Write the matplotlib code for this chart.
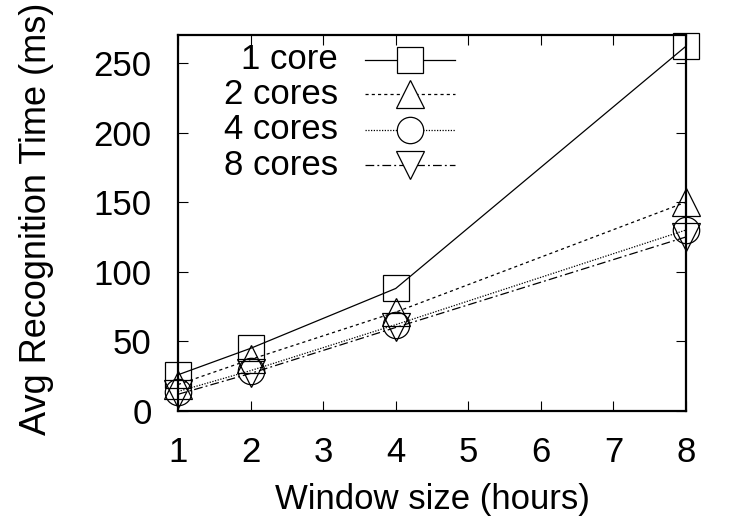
import numpy as np
import matplotlib
matplotlib.use("Agg")
import matplotlib.pyplot as plt

# データ
window_hours = [1, 2, 4, 8]
labels = ["1 core", "2 cores", "4 cores", "8 cores"]
t_1core = [26, 45, 88, 262]
t_2cores = [19, 37, 71, 150]
t_4cores = [14, 29, 62, 130]
t_8cores = [12, 27, 60, 125]
series = [t_1core, t_2cores, t_4cores, t_8cores]

markers = ["s", "^", "o", "v"]
msizes = [19, 20, 19, 20]
styles = ["-", (0, (2.5, 2.5)), (0, (1, 1.2)), (0, (7, 2.5, 1.5, 2.5))]

plt.rcParams['font.family'] = ['Liberation Sans', 'DejaVu Sans']
plt.rcParams['font.size'] = 25

fig = plt.figure(figsize=(7.5, 5.25), dpi=100)
ax = fig.add_axes([0.2373, 0.2171, 0.9147 - 0.2373, 0.9333 - 0.2171])

for ys, m, ms, ls in zip(series, markers, msizes, styles):
    ax.plot(window_hours, ys, color='black', lw=0.9, ls=ls,
            marker=m, ms=ms, mfc='none', mec='black', mew=0.9, clip_on=False)

ax.set_xlim(1, 8)
ax.set_ylim(0, 270)
ax.set_xticks(range(1, 9))
ax.set_yticks(range(0, 251, 50))
ax.tick_params(direction='in', length=7, width=0.8, top=True, right=True,
               labelsize=25)
ax.tick_params(axis='x', pad=18)
ax.tick_params(axis='y', pad=19)
for s in ax.spines.values():
    s.set_linewidth(1.6)

ax.set_xlabel("Window size (hours)", fontsize=25, labelpad=10)
ax.set_ylabel("Avg Recognition Time (ms)", fontsize=26)
ax.yaxis.set_label_coords(-0.245, 0.51)

# 凡例 (gnuplot風に右寄せ)
row_y = [0.934, 0.842, 0.748, 0.654]
for lab, m, ms, ls, yy in zip(labels, markers, msizes, styles, row_y):
    ax.text(0.315, yy, lab, transform=ax.transAxes, ha='right', va='center',
            fontsize=25)
    ax.plot([0.368, 0.545], [yy, yy], transform=ax.transAxes, color='black',
            lw=0.9, ls=ls, clip_on=False)
    ax.plot([0.457], [yy], transform=ax.transAxes, marker=m, ms=ms,
            mfc='white', mec='black', mew=0.9, ls='none', clip_on=False)

fig.savefig("out.png", dpi=100)
